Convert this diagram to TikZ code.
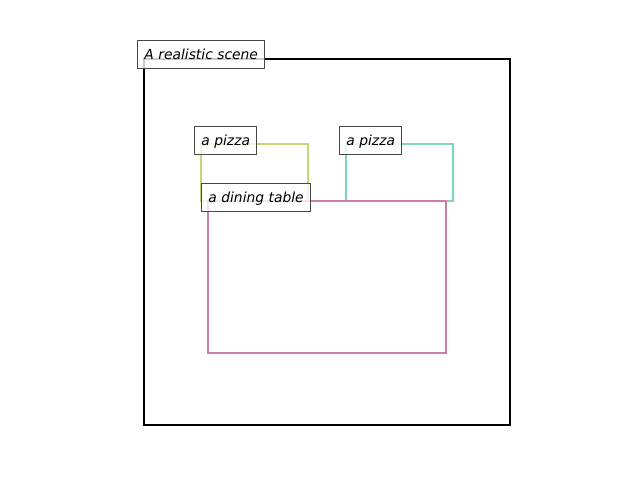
\documentclass[tikz,border=0pt]{standalone}
\usepackage{fontspec}
\setmainfont{DejaVu Sans}
\begin{document}
\begin{tikzpicture}[x=0.75pt,y=-0.75pt,
  region/.style={line width=2pt,line join=miter},
  lbl/.style={draw=black!72,line width=0.75pt,fill=white,fill opacity=0.8,text opacity=1,
    anchor=west,inner xsep=5.2pt,inner ysep=0pt,minimum height=21pt,
    text height=9pt,text depth=1.4pt,
    font=\fontsize{10.4}{12}\selectfont\itshape}]
\useasboundingbox (0,0) rectangle (640,480);
\definecolor{pizzaA}{RGB}{200,214,120}
\definecolor{pizzaB}{RGB}{125,214,180}
\definecolor{tablec}{RGB}{200,128,168}
% regions
\draw[region,black,line width=1.6pt] (144,59) rectangle (510,425);
\draw[region,pizzaA] (201,144) rectangle (308,201);
\draw[region,pizzaB] (346,144) rectangle (453,201);
\draw[region,tablec] (208,201) rectangle (446,353);
% labels
\node[lbl] (scene) at (137,54) {A realistic scene};
\node[lbl] (p1) at (194,140) {a pizza};
\node[lbl] (p2) at (339,140) {a pizza};
\node[lbl] (tab) at (201,197) {a dining table};
\end{tikzpicture}
\end{document}
